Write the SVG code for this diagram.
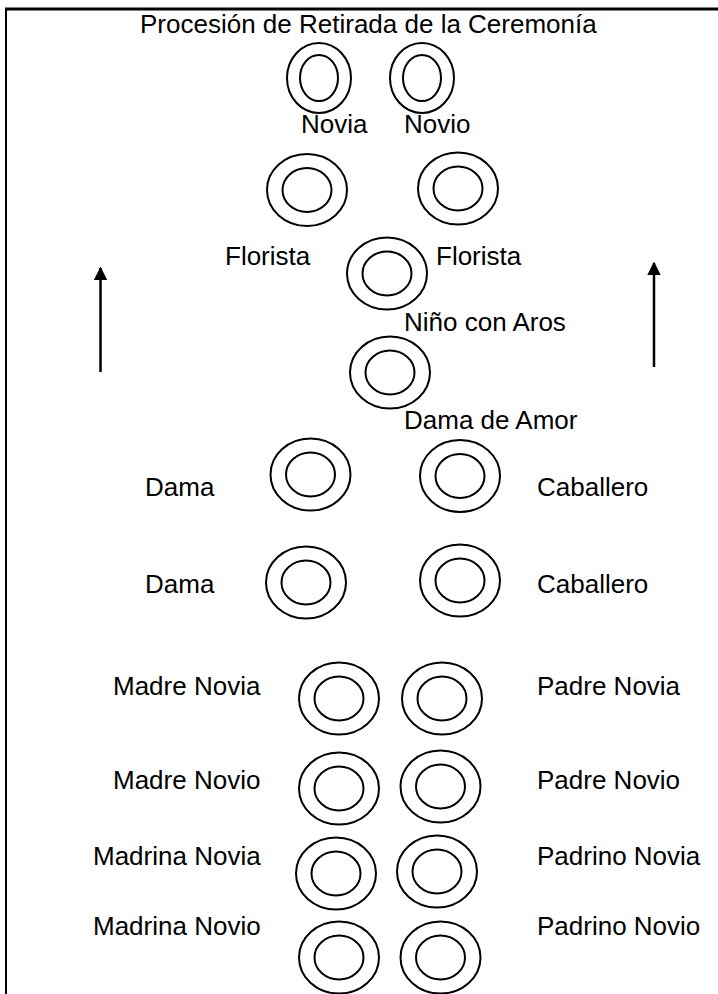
<svg xmlns="http://www.w3.org/2000/svg" width="718" height="994" viewBox="0 0 718 994">
  <style>
    text { font-family: "Liberation Sans", Arial, sans-serif; font-size: 26px; fill: #000; }
    .ring { fill: none; stroke: #000; stroke-width: 2; }
    .frame { stroke: #000; fill: none; }
    .flow { stroke: #000; stroke-width: 2.5; fill: none; }
  </style>
  <defs>
    <marker id="head" viewBox="0 0 10 10" refX="9" refY="5" markerWidth="5.4" markerHeight="6.4" markerUnits="strokeWidth" orient="auto">
      <path d="M0,0 L10,5 L0,10 Z" fill="#000"/>
    </marker>
    <!-- standard place marker: outer and inner ring -->
    <g id="seat">
      <ellipse class="ring" cx="0" cy="0" rx="40" ry="36"/>
      <ellipse class="ring" cx="0" cy="0" rx="24.5" ry="22"/>
    </g>
    <g id="seat-narrow">
      <ellipse class="ring" cx="0" cy="0" rx="32" ry="35"/>
      <ellipse class="ring" cx="0" cy="0" rx="19" ry="23"/>
    </g>
  </defs>

  <!-- page frame -->
  <line class="frame" x1="5" y1="9" x2="718" y2="9" stroke-width="3"/>
  <line class="frame" x1="6" y1="8" x2="6" y2="994" stroke-width="2"/>

  <text id="title" x="140" y="33">Procesión de Retirada de la Ceremonía</text>

  <g id="novia">
    <use href="#seat-narrow" x="319" y="78"/>
    <text x="301" y="132.5">Novia</text>
  </g>
  <g id="novio">
    <use href="#seat-narrow" x="422" y="78"/>
    <text x="404" y="132.5">Novio</text>
  </g>

  <g id="florista-1">
    <use href="#seat" x="307" y="190"/>
    <text x="225" y="265">Florista</text>
  </g>
  <g id="florista-2">
    <use href="#seat" x="458" y="188.5"/>
    <text x="436" y="265">Florista</text>
  </g>

  <g id="nino-aros">
    <use href="#seat" x="387" y="273.5"/>
    <text x="404" y="331">Niño con Aros</text>
  </g>
  <g id="dama-amor">
    <use href="#seat" x="390" y="372.5"/>
    <text x="404" y="429">Dama de Amor</text>
  </g>

  <g id="dama-1">
    <use href="#seat" x="310.5" y="474.5"/>
    <text x="145" y="496">Dama</text>
  </g>
  <g id="caballero-1">
    <use href="#seat" x="460" y="476"/>
    <text x="537" y="496">Caballero</text>
  </g>
  <g id="dama-2">
    <use href="#seat" x="306" y="582.5"/>
    <text x="145" y="593">Dama</text>
  </g>
  <g id="caballero-2">
    <use href="#seat" x="460" y="580.5"/>
    <text x="537" y="593">Caballero</text>
  </g>

  <g id="madre-novia">
    <use href="#seat" x="339" y="698.5"/>
    <text x="113" y="695">Madre Novia</text>
  </g>
  <g id="padre-novia">
    <use href="#seat" x="442" y="698.5"/>
    <text x="537" y="695">Padre Novia</text>
  </g>
  <g id="madre-novio">
    <use href="#seat" x="339" y="788.5"/>
    <text x="113" y="789">Madre Novio</text>
  </g>
  <g id="padre-novio">
    <use href="#seat" x="440.5" y="786.5"/>
    <text x="537" y="789">Padre Novio</text>
  </g>

  <g id="madrina-novia">
    <use href="#seat" x="336" y="873.5"/>
    <text x="93" y="865">Madrina Novia</text>
  </g>
  <g id="padrino-novia">
    <use href="#seat" x="437" y="871.5"/>
    <text x="537" y="865">Padrino Novia</text>
  </g>
  <g id="madrina-novio">
    <use href="#seat" x="339" y="957.5"/>
    <text x="93" y="935">Madrina Novio</text>
  </g>
  <g id="padrino-novio">
    <use href="#seat" x="440.5" y="957.5"/>
    <text x="537" y="935">Padrino Novio</text>
  </g>

  <!-- direction of the procession -->
  <g id="connectors">
    <line class="flow" x1="100.5" y1="372" x2="100.5" y2="268" marker-end="url(#head)"/>
    <line class="flow" x1="654" y1="367" x2="654" y2="263" marker-end="url(#head)"/>
  </g>
</svg>
